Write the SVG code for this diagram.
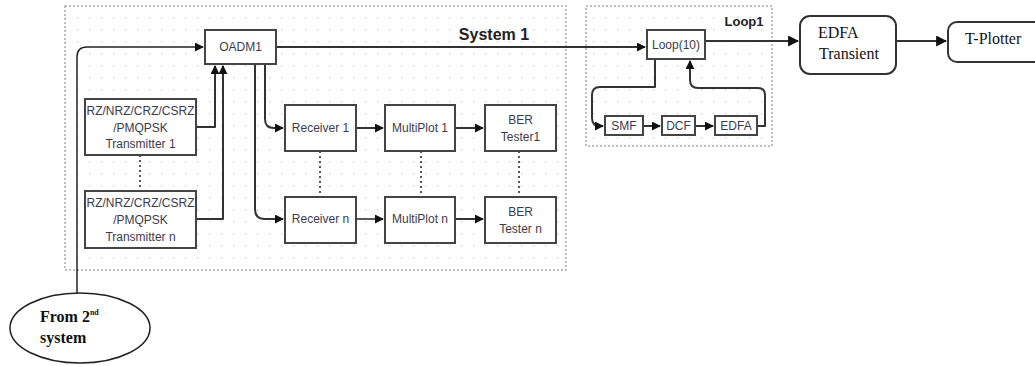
<svg xmlns="http://www.w3.org/2000/svg" width="1035" height="366" viewBox="0 0 1035 366">
<defs>
<pattern id="dots" x="0" y="0" width="12" height="12" patternUnits="userSpaceOnUse">
<rect x="5" y="5" width="1.4" height="1.4" fill="#d4d4d4"/>
</pattern>
<marker id="arr" viewBox="0 0 10 10" refX="9" refY="5" markerWidth="9" markerHeight="9" markerUnits="userSpaceOnUse" orient="auto">
<path d="M0,0 L10,5 L0,10 z" fill="#111"/>
</marker>
<marker id="arrL" viewBox="0 0 10 10" refX="9" refY="5" markerWidth="11" markerHeight="11" markerUnits="userSpaceOnUse" orient="auto">
<path d="M0,0 L10,5 L0,10 z" fill="#111"/>
</marker>
</defs>
<style>
.cont{fill:url(#dots);stroke:#aaa;stroke-width:1.5;stroke-dasharray:2,2}
.box{fill:#fff;stroke:#444;stroke-width:2}
.rbox{fill:#fff;stroke:#333;stroke-width:2}
.t{font-family:"Liberation Sans",Arial,sans-serif;font-size:12px;fill:#3d3a4a;text-anchor:middle}
.ts{font-family:"Liberation Serif","Times New Roman",serif;font-size:16px;fill:#111}
.c{fill:none;stroke:#333;stroke-width:2;stroke-linejoin:round}
.c1{fill:none;stroke:#222;stroke-width:1.5}
.dot{fill:none;stroke:#555;stroke-width:2;stroke-dasharray:2,3}
.lbl{font-family:"Liberation Sans",Arial,sans-serif;font-weight:bold;fill:#222}
</style>
<rect fill="#fff" width="1035" height="366"/>
<g id="system1">
<rect class="cont" x="65" y="6" width="501" height="264"/>
<text class="lbl" x="494" y="40" font-size="16" text-anchor="middle">System 1</text>
</g>
<g id="loop1">
<rect class="cont" x="586" y="6" width="186" height="140"/>
<text class="lbl" x="744" y="26" font-size="13" text-anchor="middle">Loop1</text>
</g>
<g id="connectors">
<path class="c1" d="M77,293 V57 Q77,47 87,47 H203" marker-end="url(#arr)"/>
<path class="c" d="M196,127 H215 V66" marker-end="url(#arr)"/>
<path class="c" d="M196,219 H223 V66" marker-end="url(#arr)"/>
<path class="c" d="M265,64 V119 Q265,128 274,128 H283" marker-end="url(#arr)"/>
<path class="c" d="M255,64 V209 Q255,219 265,219 H283" marker-end="url(#arr)"/>
<path class="c" d="M356,128 H383" marker-end="url(#arr)"/>
<path class="c" d="M455,128 H483" marker-end="url(#arr)"/>
<path class="c1" d="M356,219 H383" marker-end="url(#arr)"/>
<path class="c" d="M455,219 H483" marker-end="url(#arr)"/>
<path class="c" d="M276,47 H645" marker-end="url(#arr)"/>
<path class="dot" d="M140,155 V191"/>
<path class="dot" d="M320,151 V197"/>
<path class="dot" d="M421,151 V197"/>
<path class="dot" d="M519,151 V197"/>
<path class="c" d="M705,41 H798" marker-end="url(#arrL)"/>
<path class="c" d="M896,41 H946" marker-end="url(#arrL)"/>
<path class="c" d="M655,59 V87 H600 Q592,87 592,95 V118 Q592,126 600,126 H603" marker-end="url(#arr)"/>
<path class="c" d="M643,126 H660" marker-end="url(#arr)"/>
<path class="c" d="M695,126 H713" marker-end="url(#arr)"/>
<path class="c" d="M757,126 H765 V95 Q765,88 758,88 H698 Q690,88 690,80 V61" marker-end="url(#arr)"/>
</g>
<g id="oadm1">
<rect class="box" x="205" y="30" width="71" height="34"/>
<text class="t" x="240.5" y="51">OADM1</text>
</g>
<g id="tx1">
<rect class="box" x="85" y="99" width="111" height="56"/>
<text class="t" x="140.5" y="115">RZ/NRZ/CRZ/CSRZ</text>
<text class="t" x="140.5" y="132">/PMQPSK</text>
<text class="t" x="140.5" y="148">Transmitter 1</text>
</g>
<g id="txn">
<rect class="box" x="85" y="191" width="111" height="57"/>
<text class="t" x="140.5" y="207">RZ/NRZ/CRZ/CSRZ</text>
<text class="t" x="140.5" y="224">/PMQPSK</text>
<text class="t" x="140.5" y="241">Transmitter n</text>
</g>
<g id="rx1">
<rect class="box" x="285" y="105" width="71" height="46"/>
<text class="t" x="320.5" y="132">Receiver 1</text>
</g>
<g id="rxn">
<rect class="box" x="285" y="197" width="71" height="46"/>
<text class="t" x="320.5" y="223">Receiver n</text>
</g>
<g id="mp1">
<rect class="box" x="385" y="105" width="70" height="46"/>
<text class="t" x="420" y="132">MultiPlot 1</text>
</g>
<g id="mpn">
<rect class="box" x="385" y="197" width="70" height="46"/>
<text class="t" x="420" y="223">MultiPlot n</text>
</g>
<g id="ber1">
<rect class="box" x="485" y="105" width="71" height="46"/>
<text class="t" x="520.5" y="124">BER</text>
<text class="t" x="520.5" y="141">Tester1</text>
</g>
<g id="bern">
<rect class="box" x="485" y="197" width="71" height="46"/>
<text class="t" x="520.5" y="216">BER</text>
<text class="t" x="520.5" y="233">Tester n</text>
</g>
<g id="loop10">
<rect class="box" x="647" y="30" width="58" height="29"/>
<text class="t" x="676" y="49" fill="#5a4a4a">Loop(10)</text>
</g>
<g id="smf">
<rect class="box" x="605" y="116" width="38" height="19"/>
<text class="t" x="624" y="130">SMF</text>
</g>
<g id="dcf">
<rect class="box" x="662" y="116" width="33" height="19"/>
<text class="t" x="678.5" y="130">DCF</text>
</g>
<g id="edfa">
<rect class="box" x="715" y="116" width="42" height="19"/>
<text class="t" x="736" y="130">EDFA</text>
</g>
<g id="edfa_transient">
<rect class="rbox" x="800" y="16" width="96" height="58" rx="10"/>
<text class="ts" x="818" y="38">EDFA</text>
<text class="ts" x="819" y="59">Transient</text>
</g>
<g id="tplotter">
<rect class="rbox" x="948" y="22" width="95" height="40" rx="9"/>
<text class="ts" x="965" y="44">T-Plotter</text>
</g>
<g id="from2nd">
<ellipse cx="80" cy="328" rx="70" ry="35" fill="#fff" stroke="#222" stroke-width="1.5"/>
<text class="ts" x="40" y="322" font-weight="bold" font-size="15.5">From 2<tspan font-size="8" dy="-7">nd</tspan></text>
<text class="ts" x="40" y="343" font-weight="bold" font-size="15.5">system</text>
</g>
</svg>
